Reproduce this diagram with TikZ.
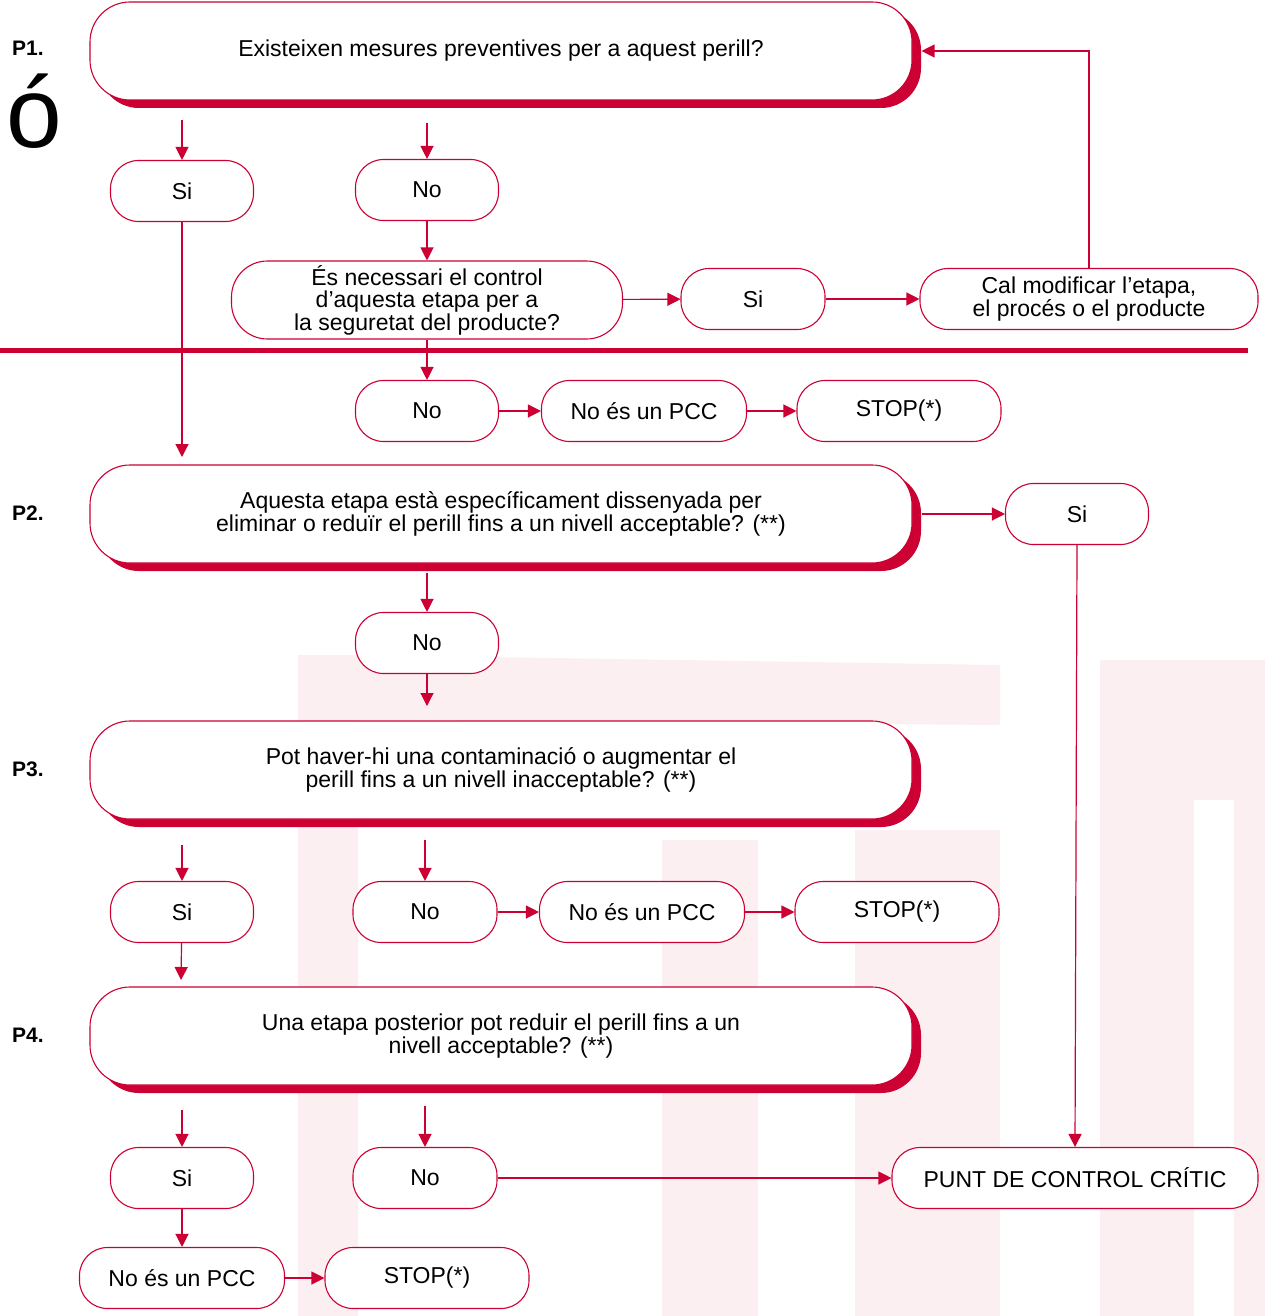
\documentclass[tikz,border=0pt]{standalone}
\usepackage{fontspec}
\setmainfont{Liberation Sans}
\usetikzlibrary{arrows.meta,shadows}
\definecolor{pcred}{HTML}{CC0033}
\definecolor{wm}{RGB}{251,226,231}
\tikzset{
  txt/.style={font=\fontsize{23}{22.5}\selectfont, align=center},
  pill/.style={txt, draw=pcred, line width=1.1pt, fill=white, rounded corners=28pt,
    minimum height=61pt, inner sep=0pt},
  bigbox/.style={txt, draw=pcred, line width=1.1pt, fill=white, rounded corners=40pt,
    minimum width=822pt, minimum height=98pt, inner sep=0pt,
    drop shadow={shadow xshift=9pt, shadow yshift=-8pt, fill=pcred, opacity=1}},
  plabel/.style={font=\fontsize{21}{22}\selectfont\bfseries},
  arr/.style={draw=pcred, line width=1.2pt, -{Triangle[length=13pt,width=13pt]}},
  soft/.style={fill=wm, fill opacity=0.55}
}
\begin{document}
\begin{tikzpicture}[x=1pt,y=-1pt]
\useasboundingbox (0,0) rectangle (1265,1316);
\fill[white] (0,0) rectangle (1265,1316);
% faint watermark
\fill[soft] (298,655) rectangle (358,1316);
\fill[soft] (358,655) -- (1000,665) -- (1000,725) -- (358,720) -- cycle;
\fill[soft] (662,840) rectangle (758,1316);
\fill[soft] (855,830) rectangle (1000,1316);
\fill[soft] (1100,660) rectangle (1194,1316);
\fill[soft] (1234,660) rectangle (1265,1316);
\fill[soft] (1194,660) rectangle (1234,800);
% big letter
\node[anchor=base, font=\fontsize{100}{100}\selectfont, inner sep=0pt] (bigo) at (34,148) {ó};
% red rule
\fill[pcred] (0,347.5) rectangle (1248,352.5);
% P labels
\node[plabel] (l1) at (28,48) {P1.};
\node[plabel] (l2) at (28,513) {P2.};
\node[plabel] (l3) at (28,769) {P3.};
\node[plabel] (l4) at (28,1035) {P4.};
% big boxes
\node[bigbox] (p1) at (501,51) {Existeixen mesures preventives per a aquest perill?};
\node[bigbox] (p2) at (501,514) {Aquesta etapa està específicament dissenyada per\\eliminar o reduïr el perill fins a un nivell acceptable? (**)};
\node[bigbox] (p3) at (501,770) {Pot haver-hi una contaminació o augmentar el\\perill fins a un nivell inacceptable? (**)};
\node[bigbox] (p4) at (501,1036) {Una etapa posterior pot reduir el perill fins a un\\nivell acceptable? (**)};
% pills
\node[pill, minimum width=143pt] (si1) at (182,191) {Si};
\node[pill, minimum width=143pt] (no1) at (427,190) {No};
\node[pill, minimum width=391pt, minimum height=78pt, rounded corners=36pt] (q) at (427,300) {És necessari el control\\d’aquesta etapa per a\\la seguretat del producte?};
\node[pill, minimum width=144pt] (si2) at (753,299) {Si};
\node[pill, minimum width=338pt] (cal) at (1089,299) {Cal modificar l’etapa,\\el procés o el producte};
\node[pill, minimum width=143pt] (no2) at (427,411) {No};
\node[pill, minimum width=205pt] (pcc1) at (644,411) {No és un PCC};
\node[pill, minimum width=204pt] (stop1) at (899,411) {STOP(*)};
\node[pill, minimum width=143pt] (si3) at (1077,514) {Si};
\node[pill, minimum width=143pt] (no3) at (427,643) {No};
\node[pill, minimum width=143pt] (si4) at (182,912) {Si};
\node[pill, minimum width=144pt] (no4) at (425,912) {No};
\node[pill, minimum width=205pt] (pcc2) at (642,912) {No és un PCC};
\node[pill, minimum width=204pt] (stop2) at (897,912) {STOP(*)};
\node[pill, minimum width=143pt] (si5) at (182,1178) {Si};
\node[pill, minimum width=144pt] (no5) at (425,1178) {No};
\node[pill, minimum width=366pt] (pcc) at (1075,1178) {PUNT DE CONTROL CRÍTIC};
\node[pill, minimum width=205pt] (pcc3) at (182,1278) {No és un PCC};
\node[pill, minimum width=204pt] (stop3) at (427,1278) {STOP(*)};
% free ends
\coordinate (a1) at (182,120);
\coordinate (a2) at (427,123);
\coordinate (e1) at (182,457);
\coordinate (a3) at (427,573);
\coordinate (e2) at (427,706);
\coordinate (a4) at (182,845);
\coordinate (a5) at (425,840);
\coordinate (e3) at (181,980);
\coordinate (a6) at (182,1110);
\coordinate (a7) at (425,1106);
% connectors
\draw[arr] (a1) -- (si1);
\draw[arr] (a2) -- (no1);
\draw[arr] (no1) -- (q);
\draw[arr] (q) -- (si2);
\draw[arr] (si2) -- (cal);
\draw[arr] (cal.north) |- ([xshift=9pt]p1.east);
\draw[arr] (q) -- (no2);
\draw[arr] (no2) -- (pcc1);
\draw[arr] (pcc1) -- (stop1);
\draw[arr] (si1) -- (e1);
\draw[arr] ([xshift=9pt]p2.east) -- (si3);
\draw[arr] (si3.south) -- (pcc.north);
\draw[arr] (a3) -- (no3);
\draw[arr] (no3) -- (e2);
\draw[arr] (a4) -- (si4);
\draw[arr] (a5) -- (no4);
\draw[arr] (no4) -- (pcc2);
\draw[arr] (pcc2) -- (stop2);
\draw[arr] (si4) -- (e3);
\draw[arr] (a6) -- (si5);
\draw[arr] (a7) -- (no5);
\draw[arr] (no5) -- (pcc);
\draw[arr] (si5) -- (pcc3);
\draw[arr] (pcc3) -- (stop3);
\end{tikzpicture}
\end{document}
